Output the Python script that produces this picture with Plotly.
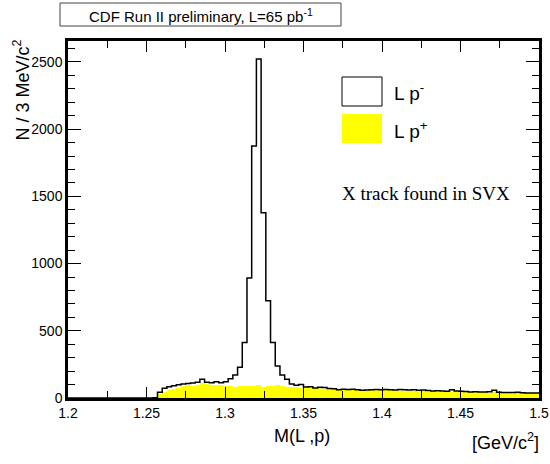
import numpy as np
import plotly.graph_objects as go

# ---------------- data ----------------
bin_width = 0.003
x_min = 1.2
n_bins = 100

# L p- (black outline), counts per 3 MeV bin
lp_minus = [
    0, 0, 0, 0, 0, 0, 0, 0, 0, 0,
    0, 0, 0, 0, 0, 0, 0, 0, 2, 42,
    72, 84, 92, 98, 104, 108, 112, 118, 140, 118,
    114, 120, 114, 121, 144, 171, 228, 412, 893, 1875,
    2522, 1379, 724, 412, 238, 171, 140, 105, 95, 100,
    82, 84, 74, 80, 78, 70, 68, 62, 66, 64,
    66, 62, 58, 60, 62, 64, 62, 64, 62, 60,
    64, 62, 60, 62, 58, 60, 56, 52, 54, 52,
    50, 62, 52, 50, 48, 45, 46, 44, 45, 46,
    57, 42, 40, 41, 40, 42, 39, 38, 37, 37,
]

# L p+ (yellow filled)
lp_plus = [
    0, 0, 0, 0, 0, 0, 0, 0, 0, 0,
    0, 0, 0, 0, 0, 0, 0, 0, 3, 30,
    48, 58, 64, 78, 86, 96, 90, 100, 108, 102,
    98, 94, 96, 86, 88, 84, 92, 86, 88, 92,
    100, 84, 90, 86, 94, 90, 82, 80, 82, 78,
    76, 74, 72, 76, 70, 68, 66, 62, 64, 66,
    60, 62, 58, 60, 58, 56, 58, 56, 57, 55,
    56, 54, 52, 54, 50, 52, 48, 50, 47, 48,
    46, 48, 45, 44, 46, 43, 44, 42, 43, 40,
    42, 40, 38, 39, 37, 38, 36, 35, 36, 34,
]

x_ticks = [1.2, 1.25, 1.3, 1.35, 1.4, 1.45, 1.5]
x_tick_labels = ["1.2", "1.25", "1.3", "1.35", "1.4", "1.45", "1.5"]
y_ticks = [0, 500, 1000, 1500, 2000, 2500]
y_tick_labels = ["0", "500", "1000", "1500", "2000", "2500"]

title_text = "CDF Run II preliminary, L=65 pb<sup>-1</sup>"
legend_minus = "L p<sup>-</sup>"
legend_plus = "L p<sup>+</sup>"
note_text = "X track found in SVX"
x_title = "M(L ,p)"
x_unit = "[GeV/c<sup>2</sup>]"
y_title = "N / 3 MeV/c<sup>2</sup>"

# ---------------- figure ----------------
edges = x_min + bin_width * np.arange(n_bins + 1)
centers = edges[:-1] + bin_width / 2

FONT = "Liberation Sans, Arial, sans-serif"
L, R, T, B = 68, 11, 41, 66
W, H = 550, 464
PW, PH = W - L - R, H - T - B


def px(x):
    return (x - L) / PW


def py(y):
    return (H - B - y) / PH


fig = go.Figure()

fig.add_trace(go.Bar(
    x=centers, y=lp_plus, width=bin_width,
    marker=dict(color="#ffff00", line=dict(width=0)),
    showlegend=False, hoverinfo="skip",
))

step_x = list(edges)
step_y = list(lp_minus) + [lp_minus[-1]]
fig.add_trace(go.Scatter(
    x=step_x, y=step_y, mode="lines",
    line=dict(color="black", width=1.5, shape="hv"),
    showlegend=False, hoverinfo="skip",
))

fig.update_layout(
    width=W, height=H,
    margin=dict(l=L, r=R, t=T, b=B, autoexpand=False),
    paper_bgcolor="white", plot_bgcolor="white",
    bargap=0, showlegend=False,
    font=dict(family=FONT, color="black", size=14),
    xaxis=dict(
        range=[1.2, 1.5], tickvals=x_ticks, ticktext=x_tick_labels,
        ticks="inside", ticklen=11, tickwidth=1.2, tickcolor="black",
        minor=dict(dtick=0.025, tick0=1.2, ticks="inside", ticklen=7,
                   tickwidth=1.2, tickcolor="black", showgrid=False),
        showline=True, linecolor="black", linewidth=2.5, mirror="allticks",
        showgrid=False, zeroline=False, automargin=False,
        tickfont=dict(size=14, family=FONT),
    ),
    yaxis=dict(
        range=[0, 2656], tickvals=y_ticks, ticktext=y_tick_labels,
        ticks="inside", ticklen=13, tickwidth=1.2, tickcolor="black",
        minor=dict(dtick=100, tick0=0, ticks="inside", ticklen=7,
                   tickwidth=1.2, tickcolor="black", showgrid=False),
        showline=True, linecolor="black", linewidth=2.5, mirror="allticks",
        showgrid=False, zeroline=False, automargin=False,
        tickfont=dict(size=14, family=FONT),
    ),
)

# title box
fig.add_shape(type="rect", xref="paper", yref="paper",
              x0=px(60), x1=px(341), y0=py(26), y1=py(3),
              line=dict(color="#444444", width=1), fillcolor="white")
fig.add_annotation(text=title_text, xref="paper", yref="paper",
                   x=px((60 + 341) / 2), y=py(15),
                   showarrow=False, font=dict(size=15, family=FONT),
                   xanchor="center", yanchor="middle")

# legend boxes
fig.add_shape(type="rect", xref="paper", yref="paper",
              x0=px(342), x1=px(382), y0=py(106), y1=py(77),
              line=dict(color="black", width=1), fillcolor="white")
fig.add_shape(type="rect", xref="paper", yref="paper",
              x0=px(342), x1=px(382), y0=py(143), y1=py(114),
              line=dict(color="#ffff00", width=0), fillcolor="#ffff00")
fig.add_annotation(text=legend_minus, xref="paper", yref="paper",
                   x=px(392), y=py(92),
                   showarrow=False, xanchor="left", yanchor="middle",
                   font=dict(size=19, family=FONT))
fig.add_annotation(text=legend_plus, xref="paper", yref="paper",
                   x=px(392), y=py(130),
                   showarrow=False, xanchor="left", yanchor="middle",
                   font=dict(size=19, family=FONT))

# note
fig.add_annotation(text=note_text, xref="paper", yref="paper",
                   x=px(340), y=py(193),
                   showarrow=False, xanchor="left", yanchor="middle",
                   font=dict(size=19, family="Liberation Serif, Times New Roman, serif"))

# axis titles
fig.add_annotation(text=x_title, xref="paper", yref="paper",
                   x=px(302), y=py(436),
                   showarrow=False, xanchor="center", yanchor="middle",
                   font=dict(size=18, family=FONT))
fig.add_annotation(text=x_unit, xref="paper", yref="paper",
                   x=px(541), y=py(441),
                   showarrow=False, xanchor="right", yanchor="middle",
                   font=dict(size=18, family=FONT))
fig.add_annotation(text=y_title, xref="paper", yref="paper",
                   x=px(22), y=py(38),
                   showarrow=False, xanchor="center", yanchor="top",
                   textangle=-90, font=dict(size=18, family=FONT))

fig.write_html(
    "out.html",
    config={"displayModeBar": False},
    post_script="document.body.style.margin='0px';document.body.style.padding='0px';",
)
